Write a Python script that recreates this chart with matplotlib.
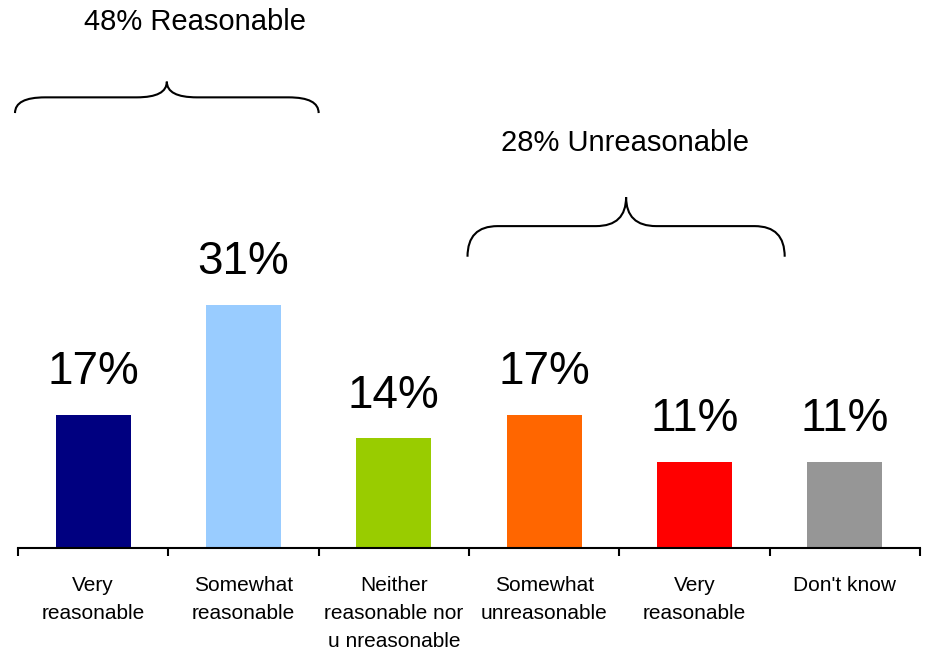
import numpy as np
import matplotlib
matplotlib.use('Agg')
import matplotlib.pyplot as plt
from matplotlib.path import Path
from matplotlib.patches import PathPatch

# data
categories = ['Very\nreasonable', 'Somewhat\nreasonable',
              'Neither\nreasonable nor\nu nreasonable',
              'Somewhat\nunreasonable', 'Very\nreasonable', "Don't know"]
values = [17, 31, 14, 17, 11, 11]
colors = ['#000080', '#99CCFF', '#99CC00', '#FF6600', '#FF0000', '#969696']
group_labels = ['48% Reasonable', '28% Unreasonable']

plt.rcParams['font.family'] = ['Liberation Sans', 'DejaVu Sans']

fig = plt.figure(figsize=(9.25, 6.53), dpi=100)
ax = fig.add_axes([18/925, 105/653, 902/925, 548/653])

x = np.arange(len(values))
ax.bar(x, values, width=0.5, color=colors)

for xi, v in zip(x, values):
    ax.annotate('%d%%' % v, (xi, v), xytext=(0, 22), textcoords='offset points',
                ha='center', va='baseline', fontsize=33)

ax.set_xlim(-0.5, len(values) - 0.5)
ax.set_ylim(0, 69.8)
for s in ['top', 'right', 'left']:
    ax.spines[s].set_visible(False)
ax.spines['bottom'].set_linewidth(1.5)
ax.set_yticks([])
ax.set_xticks(x)
ax.set_xticklabels(categories, fontsize=15, linespacing=1.6)
ax.tick_params(axis='x', which='major', length=0, pad=20)
ax.set_xticks(np.arange(len(values) + 1) - 0.5, minor=True)
ax.tick_params(axis='x', which='minor', length=6, width=1.5, direction='out')


def brace(x0, x1, y_end, y_mid, y_peak, r):
    xm = (x0 + x1) / 2
    verts = [(x0, y_end), (x0, y_mid), (x0 + r, y_mid),
             (xm - r, y_mid),
             (xm, y_mid), (xm, y_peak),
             (xm, y_mid), (xm + r, y_mid),
             (x1 - r, y_mid),
             (x1, y_mid), (x1, y_end)]
    codes = [Path.MOVETO, Path.CURVE3, Path.CURVE3,
             Path.LINETO,
             Path.CURVE3, Path.CURVE3,
             Path.CURVE3, Path.CURVE3,
             Path.LINETO,
             Path.CURVE3, Path.CURVE3]
    ax.add_patch(PathPatch(Path(verts, codes), fill=False, lw=1.5,
                           edgecolor='black', clip_on=False))


brace(-0.52, 1.5, 55.4, 57.4, 59.4, 0.2)
brace(2.49, 4.6, 37.1, 41.0, 44.7, 0.2)

ax.text(0.68, 67.0, group_labels[0], ha='center', va='center', fontsize=21)
ax.text(3.54, 51.6, group_labels[1], ha='center', va='center', fontsize=21)

fig.savefig('out.png', dpi=100)
